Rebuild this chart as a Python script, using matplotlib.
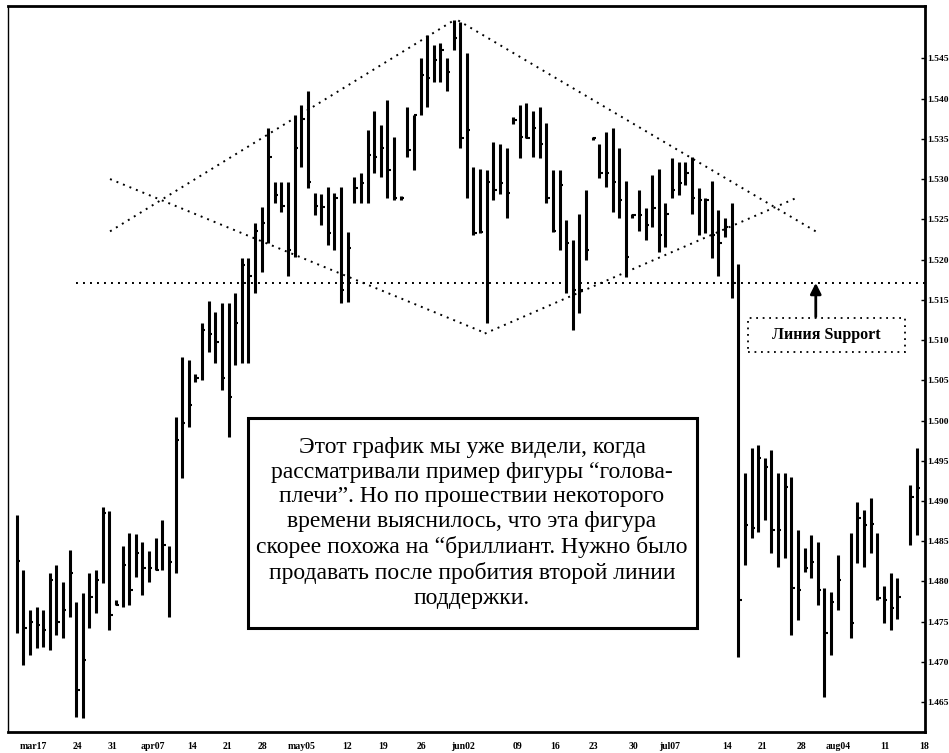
import numpy as np
import matplotlib
matplotlib.use("Agg")
import matplotlib.pyplot as plt
from matplotlib.patches import Rectangle

nan = np.nan

# daily bars, gaps are missing days
high = [1.4882, 1.4814, 1.4764, 1.4768, 1.4764, 1.4810, 1.4820, 1.4799, 1.4839, 1.4774,
        1.4786, 1.4810, 1.4814, 1.4892, 1.4887, 1.4777, 1.4844, 1.4860, 1.4859, 1.4849,
        1.4838, 1.4854, 1.4876, 1.4844, 1.5004, 1.5079, 1.5075, 1.5058, 1.5121, 1.5149,
        1.5135, 1.5146, 1.5146, 1.5159, 1.5202, 1.5202, 1.5246, 1.5265, 1.5363, 1.5296,
        1.5296, 1.5296, 1.5379, 1.5392, 1.5410, 1.5283, 1.5282, 1.5290, 1.5283, 1.5290,
        1.5234, 1.5302, 1.5307, 1.5361, 1.5385, 1.5367, 1.5398, 1.5352, 1.5279, 1.5389,
        1.5380, 1.5450, 1.5479, 1.5466, 1.5469, 1.5450, 1.5497, 1.5495, 1.5457, 1.5315,
        1.5313, 1.5311, 1.5346, 1.5344, 1.5338, 1.5377, 1.5392, 1.5394, 1.5385, 1.5389,
        1.5370, 1.5311, 1.5311, 1.5249, 1.5224, 1.5257, 1.5286, 1.5352, 1.5344, 1.5358,
        1.5364, 1.5339, 1.5298, 1.5257, 1.5286, 1.5264, 1.5305, 1.5313, 1.5270, 1.5326,
        1.5321, 1.5321, 1.5327, 1.5289, 1.5277, 1.5298, 1.5261, 1.5251, 1.5270, 1.5195,
        1.4935, 1.4966, 1.4969, 1.4953, 1.4963, 1.4935, 1.4935, 1.4930, 1.4864, 1.4841,
        1.4858, 1.4849, 1.4792, 1.4787, 1.4833, nan, 1.4860, 1.4899, 1.4889, 1.4904,
        1.4860, 1.4795, 1.4810, 1.4804, nan, 1.4920, 1.4966]

low = [1.4736, 1.4696, 1.4709, 1.4717, 1.4718, 1.4715, 1.4733, 1.4730, 1.4756, 1.4632,
       1.4630, 1.4742, 1.4761, 1.4798, 1.4740, 1.4771, 1.4768, 1.4771, 1.4805, 1.4783,
       1.4799, 1.4814, 1.4814, 1.4756, 1.4810, 1.4928, 1.4992, 1.5048, 1.5050, 1.5085,
       1.5071, 1.5038, 1.4979, 1.5069, 1.5072, 1.5072, 1.5159, 1.5184, 1.5220, 1.5270,
       1.5259, 1.5180, 1.5203, 1.5315, 1.5289, 1.5255, 1.5243, 1.5218, 1.5212, 1.5146,
       1.5147, 1.5270, 1.5270, 1.5270, 1.5308, 1.5302, 1.5276, 1.5274, 1.5274, 1.5327,
       1.5311, 1.5380, 1.5389, 1.5420, 1.5420, 1.5410, 1.5460, 1.5339, 1.5277, 1.5230,
       1.5233, 1.5121, 1.5274, 1.5282, 1.5251, 1.5369, 1.5326, 1.5351, 1.5327, 1.5326,
       1.5270, 1.5234, 1.5212, 1.5159, 1.5112, 1.5133, 1.5199, 1.5348, 1.5301, 1.5290,
       1.5259, 1.5252, 1.5178, 1.5251, 1.5236, 1.5224, 1.5240, 1.5209, 1.5215, 1.5277,
       1.5280, 1.5292, 1.5257, 1.5230, 1.5233, 1.5202, 1.5180, 1.5228, 1.5152, 1.4706,
       1.4820, 1.4854, 1.4861, 1.4876, 1.4835, 1.4818, 1.4829, 1.4733, 1.4752, 1.4812,
       1.4804, 1.4771, 1.4656, 1.4709, 1.4764, nan, 1.4730, 1.4823, 1.4818, 1.4836,
       1.4777, 1.4748, 1.4740, 1.4754, nan, 1.4845, 1.4858]

close = [1.4826, 1.4742, 1.4750, 1.4746, 1.4740, 1.4802, 1.4750, 1.4764, 1.4810, 1.4665,
         1.4702, 1.4781, 1.4802, 1.4885, 1.4758, 1.4771, 1.4820, 1.4789, 1.4835, 1.4817,
         1.4817, 1.4814, 1.4845, 1.4824, 1.4976, 1.4997, 1.5019, 1.5053, 1.5112, 1.5108,
         1.5097, 1.5053, 1.5029, 1.5121, 1.5193, 1.5180, 1.5236, 1.5245, 1.5327, 1.5280,
         1.5267, 1.5212, 1.5339, 1.5375, 1.5296, 1.5267, 1.5265, 1.5233, 1.5277, 1.5162,
         1.5214, 1.5289, 1.5295, 1.5330, 1.5327, 1.5338, 1.5311, 1.5276, 1.5276, 1.5336,
         1.5379, 1.5429, 1.5426, 1.5448, 1.5460, 1.5433, 1.5475, 1.5351, 1.5361, 1.5233,
         1.5234, 1.5296, 1.5286, 1.5295, 1.5283, 1.5373, 1.5352, 1.5351, 1.5364, 1.5344,
         1.5276, 1.5236, 1.5292, 1.5220, 1.5162, 1.5162, 1.5212, 1.5351, 1.5307, 1.5308,
         1.5296, 1.5274, 1.5203, 1.5255, 1.5255, 1.5243, 1.5264, 1.5230, 1.5257, 1.5286,
         1.5295, 1.5307, 1.5276, 1.5274, 1.5274, 1.5230, 1.5221, 1.5240, 1.5171, 1.4777,
         1.4870, 1.4866, 1.4953, 1.4942, 1.4864, 1.4864, 1.4917, 1.4792, 1.4789, 1.4817,
         1.4824, 1.4789, 1.4736, 1.4774, 1.4802, nan, 1.4748, 1.4879, 1.4870, 1.4872,
         1.4779, 1.4777, 1.4767, 1.4781, nan, 1.4905, 1.4916]

# x axis labels (bar positions of the weekly marks)
date_ticks = [2.5, 9.1, 14.5, 20.6, 26.5, 31.8, 37.2, 43.1, 49.9, 55.3, 61.2, 67.4,
              75.6, 81.3, 87.1, 93.1, 98.7, 107.3, 112.7, 118.6, 124.1, 131.2, 137.1]
date_labels = ["mar17", "24", "31", "apr07", "14", "21", "28", "may05", "12", "19",
               "26", "jun02", "09", "16", "23", "30", "jul07", "14", "21", "28",
               "aug04", "11", "18"]
price_ticks = [1.465, 1.470, 1.475, 1.480, 1.485, 1.490, 1.495, 1.500, 1.505,
               1.510, 1.515, 1.520, 1.525, 1.530, 1.535, 1.540, 1.545]

# hand-drawn pattern lines: (x0, x1), (y0, y1)
support_level = 1.5171
support_start = 9.0
trend_lines = [
    ((14.1, 66.2), (1.5235, 1.5498)),   # upper left
    ((14.1, 70.4), (1.5300, 1.5110)),   # lower left
    ((66.7, 120.9), (1.5497, 1.5234)),  # upper right
    ((70.7, 117.9), (1.5108, 1.5277)),  # lower right
]
arrow_x = 120.7
arrow_from = 1.5129

note = ("Этот график мы уже видели, когда\n"
        "рассматривали пример фигуры “голова-\n"
        "плечи”. Но по прошествии некоторого\n"
        "времени выяснилось, что эта фигура\n"
        "скорее похожа на “бриллиант. Нужно было\n"
        "продавать после пробития второй линии\n"
        "поддержки.")

plt.rcParams['font.family'] = ['Liberation Serif', 'DejaVu Serif']

W, H = 949, 753
fig = plt.figure(figsize=(W / 100, H / 100), dpi=100)
ax = fig.add_axes([8 / W, 1 - 732 / H, (925 - 8) / W, (732 - 6) / H])

idx = np.arange(len(high))
hi = np.array(high)
lo = np.array(low)
cl = np.array(close)
ok = ~np.isnan(hi)

ax.vlines(idx[ok], lo[ok], hi[ok], color='black', lw=2.2)
ax.hlines(cl[ok], idx[ok], idx[ok] + 0.5, color='black', lw=1.5)

dots = (0, (1, 2.6))
ax.plot([support_start, 137.2], [support_level, support_level],
        color='black', lw=1.4, linestyle=dots)
for xs, ys in trend_lines:
    ax.plot(xs, ys, color='black', lw=1.4, linestyle=dots)

ax.annotate('', xy=(arrow_x, support_level), xytext=(arrow_x, arrow_from),
            arrowprops=dict(arrowstyle='-|>', color='black', lw=2,
                            mutation_scale=16, shrinkA=0, shrinkB=0))

ax.set_xlim(-1.31, 137.2)
ax.set_ylim(1.4613, 1.5515)

ax.set_xticks(date_ticks)
ax.set_xticklabels(date_labels, fontsize=7, fontweight='bold')
ax.tick_params(axis='x', length=0, pad=7)

ax.yaxis.tick_right()
ax.set_yticks(price_ticks)
ax.set_yticklabels([f"{v:.3f}" for v in price_ticks], fontsize=6.8, fontweight='bold')
ax.tick_params(axis='y', direction='in', length=3, width=1, pad=1.5)

for side in ['top', 'right', 'bottom']:
    ax.spines[side].set_linewidth(2)
ax.spines['left'].set_linewidth(1)

# comment box
fig.patches.append(Rectangle((248 / W, 1 - 628 / H), (697 - 248) / W, (628 - 418) / H,
                             transform=fig.transFigure, facecolor='white',
                             edgecolor='black', lw=2.2, zorder=5))
fig.text(472 / W, 1 - 523 / H, note, ha='center', va='center', fontsize=17,
         linespacing=1.24, zorder=6)

# support label box
fig.patches.append(Rectangle((748 / W, 1 - 352 / H), (905 - 748) / W, (352 - 318) / H,
                             transform=fig.transFigure, facecolor='white',
                             edgecolor='black', lw=1.3, linestyle=dots, zorder=5))
fig.text(826 / W, 1 - 335 / H, "Линия Support", ha='center', va='center',
         fontsize=11.5, fontweight='bold', zorder=6)

fig.savefig("out.png", dpi=100)
